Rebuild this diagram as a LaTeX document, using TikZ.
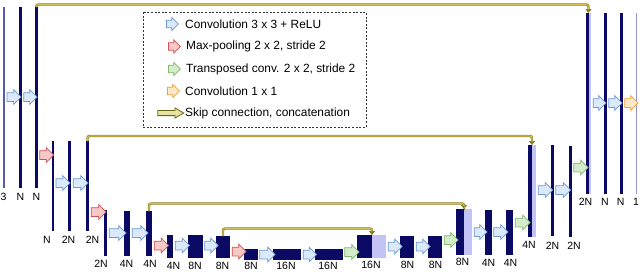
\documentclass[tikz,border=0pt]{standalone}
\usepackage{fontspec}
\setmainfont{Liberation Sans}
\usetikzlibrary{shapes.arrows,arrows.meta}
\definecolor{navy}{HTML}{0A0A64}
\definecolor{catlight}{HTML}{C3C3F5}
\definecolor{inbar}{HTML}{5A5AAA}
\definecolor{outbar}{HTML}{9494D4}
\definecolor{bluef}{HTML}{DCE9FA}
\definecolor{blued}{HTML}{6E9AD2}
\definecolor{redf}{HTML}{F6C9C9}
\definecolor{redd}{HTML}{D05252}
\definecolor{greenf}{HTML}{D4ECCC}
\definecolor{greend}{HTML}{80BA6C}
\definecolor{orangef}{HTML}{FDE8C8}
\definecolor{oranged}{HTML}{F0A030}
\definecolor{skipgold}{HTML}{CDBE58}
\definecolor{skipdark}{HTML}{8C7C20}
\definecolor{legskipf}{HTML}{E8E2A4}
\definecolor{legskipd}{HTML}{666610}
\tikzset{
  x=1pt, y=1pt,
  layer/.style={fill=navy, draw=none, inner sep=0pt, outer sep=0pt, anchor=north west},
  catl/.style={layer, fill=catlight},
  inl/.style={layer, fill=inbar},
  outl/.style={layer, fill=outbar},
  blk/.style={single arrow, single arrow head extend=3pt, inner xsep=0pt, inner ysep=4pt,
              minimum width=14pt, line width=0.75pt, outer sep=0pt},
  legblk/.style={single arrow, single arrow head extend=2.8pt, inner xsep=0pt, inner ysep=3.4pt,
              minimum width=12.4pt, minimum height=12pt, line width=0.75pt, outer sep=0pt},
  conv/.style={fill=bluef, draw=blued},
  pool/.style={fill=redf, draw=redd},
  upc/.style={fill=greenf, draw=greend},
  onec/.style={fill=orangef, draw=oranged},
  lbl/.style={font=\fontsize{10.5}{12}\selectfont, inner sep=0pt},
  legtxt/.style={font=\fontsize{11.9}{13.5}\selectfont, inner sep=0pt, anchor=west},
  skipout/.style={draw=skipdark, line width=2.4pt, rounded corners=2pt, -{Triangle[length=4pt,width=6pt]}},
  skipin/.style={draw=skipgold, line width=1.1pt, rounded corners=2pt, shorten >=3.6pt},
  legbox/.style={draw=black!80, line width=0.8pt, dash pattern=on 2pt off 1.6pt}
}
% layer: style, name, x, width, ytop, ybot
\newcommand\lay[6]{\node[#1, minimum width=#4pt, minimum height={(#6-#5)*1pt}] (#2) at (#3,-#5) {};}
% block arrow: style, name, x1, x2, y
\newcommand\barr[5]{\node[blk,#1,minimum height={(#4-#3)*1pt}] (#2) at ({(#3+#4)/2},-#5) {};}
\newcommand\skipc[1]{\draw[skipout] #1; \draw[skipin] #1;}
\begin{document}
\begin{tikzpicture}
\useasboundingbox (0,0) rectangle (640,-271);
% ---------- encoder ----------
\lay{inl}{b1}{3.4}{1.3}{7}{188}
\lay{layer}{b2}{19}{2.6}{7}{188}
\lay{layer}{b3}{35}{2.6}{7}{188}
\lay{layer}{b4}{51.5}{2.2}{141}{231}
\lay{layer}{b5}{68}{3}{141}{231}
\lay{layer}{b6}{86}{3}{141}{231}
\lay{layer}{b7}{104}{3}{210}{256}
\lay{layer}{b8}{124}{6}{211}{256}
\lay{layer}{b9}{146}{6}{211}{256}
\lay{layer}{b10}{166.5}{6.5}{235}{258}
\lay{layer}{b11}{187.5}{15}{235}{258}
\lay{layer}{b12}{216}{14}{236}{258}
\lay{layer}{b13}{244}{13.5}{249}{260}
\lay{layer}{b14}{273}{28}{249}{260}
\lay{layer}{b15}{314.5}{28}{249}{260}
% ---------- decoder ----------
\lay{layer}{b16}{357}{15}{235}{258}
\lay{catl}{b16c}{372}{14}{235}{258}
\lay{layer}{b17}{400}{14}{236}{258}
\lay{layer}{b18}{428}{14}{236}{258}
\lay{layer}{b19}{456}{8}{209}{255}
\lay{catl}{b19c}{464}{8}{209}{255}
\lay{layer}{b20}{485}{6.5}{210}{255}
\lay{layer}{b21}{506}{7}{210}{255}
\lay{layer}{b22}{528}{4}{145}{237}
\lay{catl}{b22c}{532}{4}{145}{237}
\lay{layer}{b23}{550.5}{3}{145}{236}
\lay{layer}{b24}{568.5}{3}{146}{237}
\lay{layer}{b25}{586}{2.5}{13}{194}
\lay{catl}{b25c}{588.5}{2.5}{13}{194}
\lay{layer}{b26}{604}{2.6}{13}{194}
\lay{layer}{b27}{620}{2.6}{13}{194}
\lay{outl}{b28}{635.5}{1.3}{13}{194}
% ---------- block arrows ----------
\barr{conv}{a1}{4.9}{19}{97}
\barr{conv}{a2}{21.6}{35}{97}
\barr{pool}{a3}{37.6}{51.5}{155}
\barr{conv}{a4}{53.7}{68}{183}
\barr{conv}{a5}{71}{86}{183}
\barr{pool}{a6}{89}{104}{212}
\barr{conv}{a7}{107}{124}{233}
\barr{conv}{a8}{130}{146}{233}
\barr{pool}{a9}{152}{166.5}{245.5}
\barr{conv}{a10}{173}{187.5}{245.5}
\barr{conv}{a11}{202.5}{216}{245.5}
\barr{pool}{a12}{230}{244}{251.5}
\barr{conv}{a13}{257.5}{273}{254.5}
\barr{conv}{a14}{301}{314.5}{254.5}
\barr{upc}{a15}{342.5}{357}{252}
\barr{conv}{a16}{386}{400}{246.5}
\barr{conv}{a17}{414}{428}{246.5}
\barr{upc}{a18}{442}{456}{240}
\barr{conv}{a19}{472}{485}{232}
\barr{conv}{a20}{491.5}{506}{232}
\barr{upc}{a21}{513}{528}{222.5}
\barr{conv}{a22}{536}{550.5}{190}
\barr{conv}{a23}{553.5}{568.5}{190}
\barr{upc}{a24}{571.5}{586}{167.5}
\barr{conv}{a25}{591}{604}{103}
\barr{conv}{a26}{606.6}{620}{103}
\barr{onec}{a27}{622.6}{636}{103}
% ---------- skip connections ----------
\skipc{(b3.north) -- ++(0,2.5) -| (b25.north east)}
\skipc{(b6.north) -- ++(0,5) -| (b22.north east)}
\skipc{(b9.north) -- ++(0,7.5) -| (b19.north east)}
\skipc{(b12.north) -- ++(0,7.5) -| (b16.north east)}
% ---------- labels ----------
\node[lbl] (l1) at (3.5,-197) {3};
\node[lbl] (l2) at (20.3,-197) {N};
\node[lbl] (l3) at (36.3,-197) {N};
\node[lbl] (l4) at (47,-239.5) {N};
\node[lbl] (l5) at (68.5,-239.5) {2N};
\node[lbl] (l6) at (92.5,-239.5) {2N};
\node[lbl] (l7) at (101,-264) {2N};
\node[lbl] (l8) at (126.5,-264) {4N};
\node[lbl] (l9) at (150,-264) {4N};
\node[lbl] (l10) at (173.5,-265.5) {4N};
\node[lbl] (l11) at (195,-265.5) {8N};
\node[lbl] (l12) at (222.5,-265.5) {8N};
\node[lbl] (l13) at (251,-266.3) {8N};
\node[lbl] (l14) at (286,-266.3) {16N};
\node[lbl] (l15) at (328,-266.3) {16N};
\node[lbl] (l16) at (371,-265) {16N};
\node[lbl] (l17) at (407.5,-265) {8N};
\node[lbl] (l18) at (435.5,-265) {8N};
\node[lbl] (l19) at (462.5,-262) {8N};
\node[lbl] (l20) at (488.5,-263) {4N};
\node[lbl] (l21) at (510.5,-263) {4N};
\node[lbl] (l22) at (529,-244.5) {4N};
\node[lbl] (l23) at (552.5,-245.5) {2N};
\node[lbl] (l24) at (574,-245.5) {2N};
\node[lbl] (l25) at (585.5,-202) {2N};
\node[lbl] (l26) at (605,-202) {N};
\node[lbl] (l27) at (620.7,-202) {N};
\node[lbl] (l28) at (636,-202) {1};
% ---------- legend ----------
\draw[legbox] (143,-12) rectangle (366,-127);
\node[legblk,conv] (g1) at (170.5,-24) {};
\node[legtxt] (t1) at (185,-24) {Convolution 3 x 3 + ReLU};
\node[legblk,pool] (g2) at (172.5,-46.5) {};
\node[legtxt] (t2) at (186,-46.5) {Max-pooling 2 x 2, stride 2};
\node[legblk,upc] (g3) at (172.5,-69) {};
\node[legtxt] (t3) at (186,-69) {Transposed conv. 2 x 2, stride 2};
\node[legblk,onec] (g4) at (171.5,-91) {};
\node[legtxt] (t4) at (185,-91) {Convolution 1 x 1};
\node[single arrow, single arrow head extend=2.5pt, single arrow tip angle=60, inner xsep=0pt,
      inner ysep=2.2pt, minimum width=9pt, minimum height=26pt, line width=0.8pt, outer sep=0pt,
      fill=legskipf, draw=legskipd] (g5) at (168.5,-113) {};
\node[legtxt] (t5) at (185,-113) {Skip connection, concatenation};
\end{tikzpicture}
\end{document}
